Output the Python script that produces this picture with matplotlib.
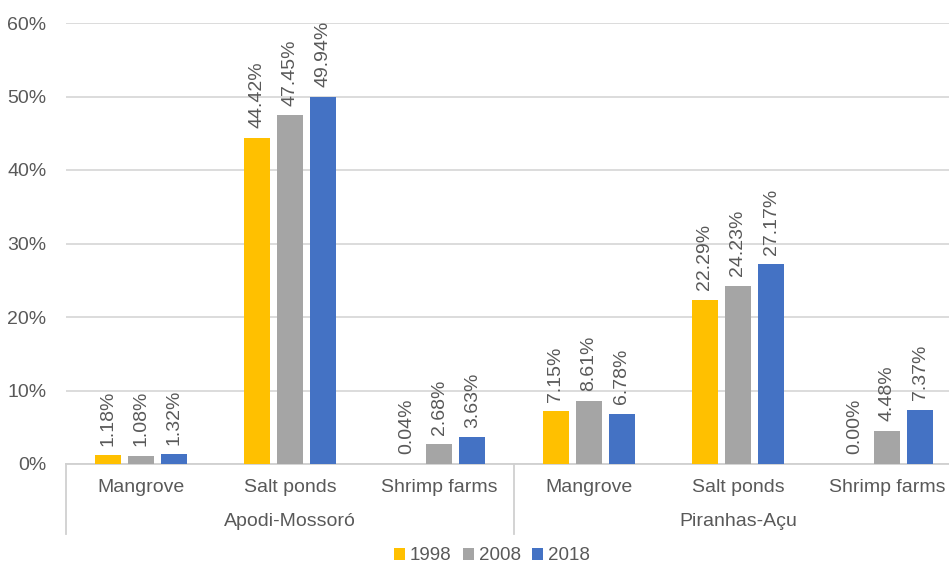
import matplotlib.pyplot as plt
import numpy as np
from matplotlib.patches import Patch
from matplotlib.transforms import blended_transform_factory

plt.rcParams["font.family"] = ["Liberation Sans", "DejaVu Sans"]

regions = ["Apodi-Mossoró", "Piranhas-Açu"]
classes = ["Mangrove", "Salt ponds", "Shrimp farms"]
years = ["1998", "2008", "2018"]
vals_1998 = [1.18, 44.42, 0.04, 7.15, 22.29, 0.00]
vals_2008 = [1.08, 47.45, 2.68, 8.61, 24.23, 4.48]
vals_2018 = [1.32, 49.94, 3.63, 6.78, 27.17, 7.37]
colors = ["#FFC000", "#A5A5A5", "#4472C4"]
text_col = "#595959"

fig = plt.figure(figsize=(9.49, 5.64), dpi=100)
# axes extends a bit past the right edge, like the cropped original
ax = fig.add_axes([66 / 949, 100 / 564, 896 / 949, 441 / 564])

x = np.arange(len(regions) * len(classes))
width = 0.174
step = 0.221
for i, (vals, c) in enumerate(zip([vals_1998, vals_2008, vals_2018], colors)):
    pos = x + (i - 1) * step
    ax.bar(pos, vals, width=width, color=c, zorder=3)
    for px, v in zip(pos, vals):
        ax.annotate(f"{v:.2f}%", (px, v), xytext=(0, 7), textcoords="offset points",
                    rotation=90, ha="center", va="bottom", fontsize=14, color=text_col)

ax.set_xlim(-0.5, len(x) - 0.5)
ax.set_ylim(0, 60)
ax.set_yticks(np.arange(0, 61, 10))
ax.set_yticklabels([f"{t}%" for t in range(0, 61, 10)])
ax.tick_params(axis="y", length=0, labelsize=14, labelcolor=text_col, pad=14)
ax.set_xticks([])
ax.grid(axis="y", color="#D9D9D9", linewidth=1.3, zorder=0)
for s in ["top", "right", "left"]:
    ax.spines[s].set_visible(False)
ax.spines["bottom"].set_color("#D0D0D0")
ax.spines["bottom"].set_linewidth(1.3)

# two-level category axis
tr = blended_transform_factory(ax.transData, fig.transFigure)
for k, xi in enumerate(x):
    ax.text(xi, 1 - 487 / 564, classes[k % 3], transform=tr, ha="center", va="center",
            fontsize=14, color=text_col)
for r, name in enumerate(regions):
    ax.text(r * 3 + 1, 1 - 522 / 564, name, transform=tr, ha="center", va="center",
            fontsize=14, color=text_col)
for xs in [-0.5, 2.5]:
    ax.plot([xs, xs], [1 - 464 / 564, 1 - 534 / 564], transform=tr, color="#D0D0D0",
            linewidth=1.3, clip_on=False)

handles = [Patch(facecolor=c, edgecolor="none", label=y) for c, y in zip(colors, years)]
fig.legend(handles=handles, loc="center", bbox_to_anchor=(492 / 949, 1 - 556 / 564), ncol=3,
           frameon=False, handlelength=0.6, handleheight=0.6, handletextpad=0.25,
           columnspacing=0.6, fontsize=13.5, labelcolor=text_col)

fig.savefig("out.png", dpi=100)
